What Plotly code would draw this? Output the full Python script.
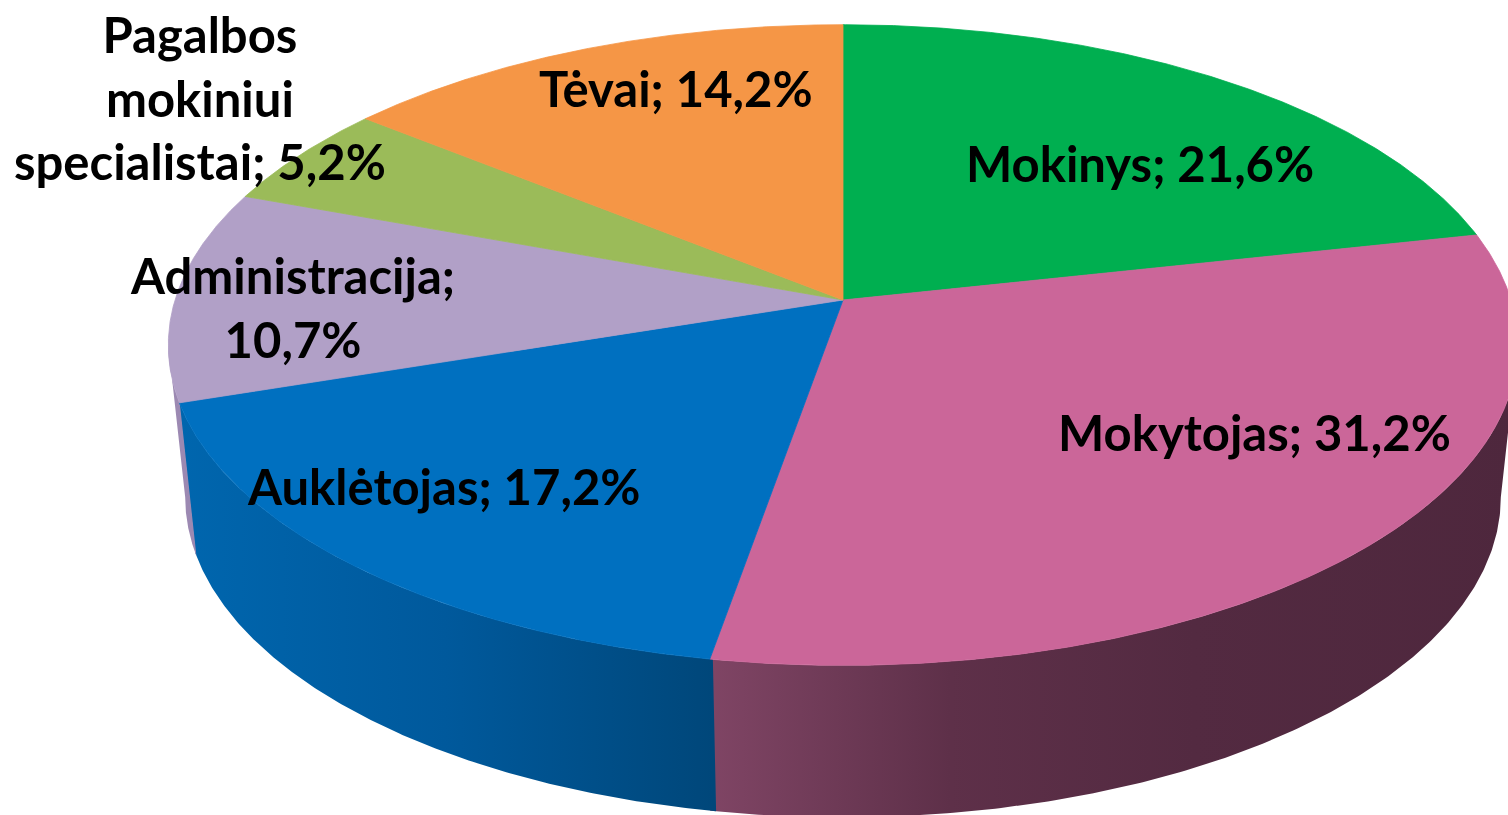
import numpy as np
import plotly.graph_objects as go

# ---- data ----
categories = ["Mokinys", "Mokytojas", "Auklėtojas", "Administracija",
              "Pagalbos mokiniui specialistai", "Tėvai"]
shares = [21.6, 31.2, 17.2, 10.7, 5.2, 14.2]

# ---- styles ----
top_colors = ["#00AF50", "#CB6699", "#0070C0", "#B1A0C7", "#9BBB59", "#F59646"]
side_scales = [
    [[0, "#007A38"], [1, "#007A38"]],
    [[0, "#804565"], [0.3, "#5E3049"], [0.6, "#532A41"], [1, "#4E273D"]],
    [[0, "#0066AE"], [0.5, "#00599C"], [1, "#00477A"]],
    [[0, "#9C89B2"], [1, "#9C89B2"]],
    [[0, "#7A9845"], [1, "#7A9845"]],
    [[0, "#C87636"], [1, "#C87636"]],
]
label_wrap = [0, 0, 0, 1, 2, 0]
label_pos = [(1140, 163), (1254, 432), (443, 486), (292, 307), (200, 97), (676, 88)]

# ---- geometry of the tilted disc (screen px) ----
CX, CY = 843, 300
RX, RY = 668, 314
PERSP = 0.1406
DEPTH = 152
BOTTOM_SHRINK = 0.975
W, H = 1508, 815


def proj(theta):
    x = np.sin(theta)
    z = np.cos(theta)
    s = 1.0 / (1.0 + PERSP * z)
    return CX + RX * x * s, CY - RY * z * s


vals = np.array(shares, dtype=float)
frac = vals / vals.sum()
bounds = np.concatenate([[0.0], np.cumsum(frac)]) * 2 * np.pi

th_right = np.arccos(-PERSP)
th_left = 2 * np.pi - th_right

fig = go.Figure()

# side walls (only the visible front part)
for i in range(len(categories)):
    a0 = max(bounds[i] - 0.004, th_right)
    a1 = min(bounds[i + 1] + 0.004, th_left)
    if a1 <= a0:
        continue
    t = np.linspace(a0, a1, 200)
    xs, ys = proj(t)
    xb = CX + (xs - CX) * BOTTOM_SHRINK
    px = np.concatenate([xs, xb[::-1]])
    py = np.concatenate([ys, (ys + DEPTH)[::-1]])
    fig.add_trace(go.Scatter(
        x=px, y=py, mode="lines", fill="toself",
        line=dict(width=0),
        fillgradient=dict(type="horizontal", colorscale=side_scales[i],
                          start=float(xs.min()), stop=float(xs.max())),
        hoverinfo="skip", showlegend=False))

# top faces
for i in range(len(categories)):
    t = np.linspace(bounds[i], bounds[i + 1], 300)
    xs, ys = proj(t)
    px = np.concatenate([[CX], xs, [CX]])
    py = np.concatenate([[CY], ys, [CY]])
    fig.add_trace(go.Scatter(
        x=px, y=py, mode="lines", fill="toself",
        fillcolor=top_colors[i], line=dict(width=0.8, color=top_colors[i]),
        hoverinfo="skip", showlegend=False))

# labels
for i, cat in enumerate(categories):
    pct = f"{shares[i]:.1f}".replace(".", ",") + "%"
    words = f"{cat}; {pct}".split(" ")
    n = label_wrap[i]
    lines = words[:n] + [" ".join(words[n:])]
    fig.add_annotation(
        x=label_pos[i][0], y=label_pos[i][1], xref="x", yref="y",
        text="<br>".join(f"<b>{l}</b>" for l in lines),
        showarrow=False, xanchor="center", yanchor="middle", align="center",
        font=dict(family="Lato", size=49, color="black"))

fig.update_layout(
    width=W, height=H, margin=dict(l=0, r=0, t=0, b=0),
    paper_bgcolor="white", plot_bgcolor="white",
    xaxis=dict(range=[0, W], visible=False, fixedrange=True),
    yaxis=dict(range=[H, 0], visible=False, fixedrange=True),
    hovermode=False, showlegend=False)

fig.write_html("out.html", config={"displayModeBar": False},
               post_script="document.body.style.margin='0';")
